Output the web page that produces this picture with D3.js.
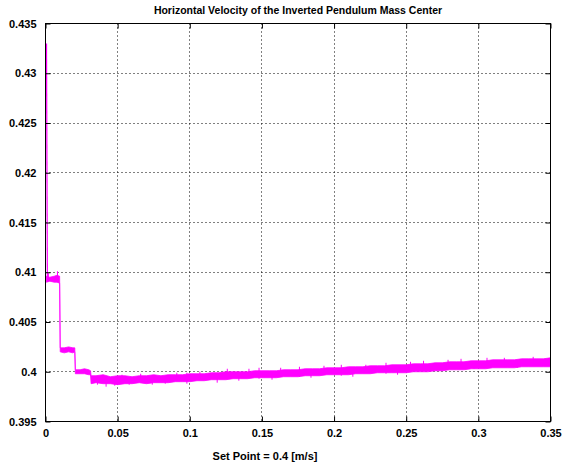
<!DOCTYPE html>
<html><head><meta charset="utf-8">
<script src="https://cdn.jsdelivr.net/npm/d3@7"></script>
<style>
body{margin:0;background:#fff}
text{font-family:"Liberation Sans",Arial,Helvetica,sans-serif;font-weight:bold;fill:#000}
</style>
</head><body>
<svg id="c" width="562" height="467"></svg>
<script>
const titleText = "Horizontal Velocity of the Inverted Pendulum Mass Center";
const xLabelText = "Set Point = 0.4 [m/s]";
const xTicks = [0, 0.05, 0.1, 0.15, 0.2, 0.25, 0.3, 0.35];
const yTicks = [0.395, 0.4, 0.405, 0.41, 0.415, 0.42, 0.425, 0.43, 0.435];

// initial transient (line)
const jumpT = [0, 0.0006];
const jumpV = [0.4330, 0.4094];

// noisy signal envelope (upper / lower)
const bandT = [0.0006, 0.003, 0.006, 0.008, 0.0098, 0.0102, 0.013, 0.016, 0.019, 0.0203, 0.0207, 0.024, 0.027, 0.030, 0.0312, 0.0316,
  0.035, 0.040, 0.045, 0.050, 0.055, 0.060, 0.065, 0.070, 0.075, 0.080, 0.085, 0.090, 0.095, 0.100,
  0.105, 0.110, 0.115, 0.120, 0.125, 0.130, 0.135, 0.140, 0.145, 0.150, 0.155, 0.160, 0.165, 0.170,
  0.175, 0.180, 0.185, 0.190, 0.195, 0.200, 0.205, 0.210, 0.215, 0.220, 0.225, 0.230, 0.235, 0.240,
  0.245, 0.250, 0.255, 0.260, 0.265, 0.270, 0.275, 0.280, 0.285, 0.290, 0.295, 0.300, 0.305, 0.310,
  0.315, 0.320, 0.325, 0.330, 0.335, 0.340, 0.345, 0.350];
const bandHi = [0.4096, 0.4095, 0.4096, 0.4097, 0.4096, 0.4024, 0.4024, 0.4025, 0.4024, 0.4024, 0.4002, 0.4002, 0.4003, 0.4002, 0.4001, 0.3996,
  0.3996, 0.3997, 0.3995, 0.3996, 0.3996, 0.3995, 0.3996, 0.3996, 0.3997, 0.3996, 0.3997, 0.3997, 0.3997, 0.3998,
  0.3998, 0.3998, 0.3999, 0.3999, 0.4000, 0.4000, 0.4000, 0.4000, 0.4001, 0.4001, 0.4001, 0.4001, 0.4002, 0.4002,
  0.4002, 0.4003, 0.4003, 0.4003, 0.4004, 0.4004, 0.4004, 0.4005, 0.4005, 0.4005, 0.4006, 0.4006, 0.4006, 0.4007,
  0.4007, 0.4007, 0.4008, 0.4008, 0.4008, 0.4009, 0.4009, 0.4010, 0.4010, 0.4010, 0.4011, 0.4011, 0.4011, 0.4012,
  0.4012, 0.4012, 0.4012, 0.4013, 0.4013, 0.4013, 0.4013, 0.4014];
const bandLo = [0.4090, 0.4091, 0.4090, 0.4090, 0.4089, 0.4020, 0.4019, 0.4020, 0.4019, 0.4020, 0.3998, 0.3998, 0.3998, 0.3997, 0.3997, 0.3988,
  0.3989, 0.3988, 0.3988, 0.3987, 0.3988, 0.3988, 0.3989, 0.3988, 0.3989, 0.3989, 0.3989, 0.3990, 0.3990, 0.3990,
  0.3991, 0.3991, 0.3992, 0.3992, 0.3992, 0.3993, 0.3993, 0.3993, 0.3994, 0.3994, 0.3994, 0.3994, 0.3995, 0.3995,
  0.3995, 0.3996, 0.3996, 0.3996, 0.3997, 0.3997, 0.3997, 0.3997, 0.3998, 0.3998, 0.3998, 0.3999, 0.3999, 0.3999,
  0.3999, 0.3999, 0.4000, 0.4000, 0.4000, 0.4001, 0.4001, 0.4002, 0.4002, 0.4002, 0.4003, 0.4003, 0.4003, 0.4004,
  0.4004, 0.4004, 0.4004, 0.4005, 0.4005, 0.4005, 0.4005, 0.4005];

// isolated noise spikes (time, bottom, top)
const spikeT  = [0.002, 0.0083, 0.036, 0.042, 0.048, 0.053, 0.058, 0.066, 0.074, 0.083, 0.091, 0.098, 0.107, 0.113, 0.119, 0.126,
  0.134, 0.141, 0.148, 0.157, 0.163, 0.176, 0.184, 0.193, 0.205, 0.213, 0.222, 0.236, 0.244, 0.253, 0.262, 0.271, 0.279, 0.288, 0.297, 0.306, 0.318, 0.327, 0.338];
const spikeLo = [0.4094, 0.4093, 0.3987, 0.3985, 0.3986, 0.3990, 0.3987, 0.3990, 0.3987, 0.3988, 0.3992, 0.3988, 0.3994, 0.3992, 0.3989, 0.3996,
  0.3991, 0.3997, 0.3993, 0.3992, 0.3998, 0.3995, 0.3994, 0.4000, 0.3996, 0.3995, 0.4001, 0.3998, 0.3997, 0.4003, 0.4001, 0.4001, 0.4006, 0.4003, 0.4003, 0.4008, 0.4005, 0.4004, 0.4008];
const spikeHi = [0.4099, 0.4101, 0.3994, 0.3992, 0.3992, 0.3997, 0.3993, 0.3998, 0.3993, 0.3995, 0.3999, 0.3999, 0.4000, 0.3998, 0.3996, 0.4003,
  0.3998, 0.4003, 0.4004, 0.3999, 0.4004, 0.4005, 0.4001, 0.4006, 0.4007, 0.4002, 0.4007, 0.4009, 0.4004, 0.4010, 0.4011, 0.4007, 0.4012, 0.4013, 0.4009, 0.4014, 0.4014, 0.4010, 0.4015];

const svg = d3.select("#c");
const L = 45.5, R = 550.5, T = 23.5, B = 421.5;
const x = d3.scaleLinear().domain([0, 0.35]).range([L, R]);
const y = d3.scaleLinear().domain([0.395, 0.435]).range([B, T]);
const snap = v => Math.round(v - 0.5) + 0.5;
const fmt = d => String(+d.toFixed(3));

// grid
const g = svg.append("g");
xTicks.slice(1, -1).forEach(t => {
  g.append("line").attr("x1", snap(x(t))).attr("x2", snap(x(t))).attr("y1", T).attr("y2", B)
    .attr("stroke", "#000").attr("stroke-width", 1).attr("stroke-dasharray", "1,3");
});
yTicks.slice(1, -1).forEach(v => {
  g.append("line").attr("y1", snap(y(v))).attr("y2", snap(y(v))).attr("x1", L).attr("x2", R)
    .attr("stroke", "#000").attr("stroke-width", 1).attr("stroke-dasharray", "1,3");
});

// data
const band = bandT.map((t, i) => ({t, hi: bandHi[i], lo: bandLo[i]}));
svg.append("path").datum(band)
  .attr("d", d3.area().x(d => x(d.t)).y0(d => y(d.lo)).y1(d => y(d.hi)))
  .attr("fill", "#ff00ff").attr("stroke", "#ff00ff").attr("stroke-width", 0.8);
svg.append("path").datum(jumpT.map((t, i) => ({t, v: jumpV[i]})))
  .attr("d", d3.line().x(d => x(d.t) + 1).y(d => y(d.v)))
  .attr("fill", "none").attr("stroke", "#ff00ff").attr("stroke-width", 1.2);
spikeT.forEach((t, i) => {
  svg.append("line").attr("x1", x(t)).attr("x2", x(t)).attr("y1", y(spikeLo[i])).attr("y2", y(spikeHi[i]))
    .attr("stroke", "#ff00ff").attr("stroke-width", 1);
});

// axes with inward ticks on all sides
const tk = 5;
const xb = d3.axisBottom(x).tickValues(xTicks).tickSize(-tk).tickPadding(8).tickFormat(fmt);
const xt = d3.axisTop(x).tickValues(xTicks).tickSize(-tk).tickFormat("");
const yl = d3.axisLeft(y).tickValues(yTicks).tickSize(-tk).tickPadding(9).tickFormat(fmt);
const yr = d3.axisRight(y).tickValues(yTicks).tickSize(-tk).tickFormat("");
const ax = [
  svg.append("g").attr("transform", `translate(0,${B})`).call(xb),
  svg.append("g").attr("transform", `translate(0,${T})`).call(xt),
  svg.append("g").attr("transform", `translate(${L},0)`).call(yl),
  svg.append("g").attr("transform", `translate(${R},0)`).call(yr)
];
ax.forEach(a => {
  a.select(".domain").remove();
  a.selectAll("line").attr("stroke", "#000");
  a.selectAll("text").attr("font-size", 11).attr("font-family", null).style("font-weight", "bold");
});
svg.append("rect").attr("x", L).attr("y", T).attr("width", R - L).attr("height", B - T)
  .attr("fill", "none").attr("stroke", "#000").attr("stroke-width", 1);

// title & label
svg.append("text").attr("x", 298).attr("y", 14).attr("text-anchor", "middle")
  .attr("font-size", 10.5).text(titleText);
svg.append("text").attr("x", 265).attr("y", 460).attr("text-anchor", "middle")
  .attr("font-size", 11).text(xLabelText);
</script>
</body></html>
